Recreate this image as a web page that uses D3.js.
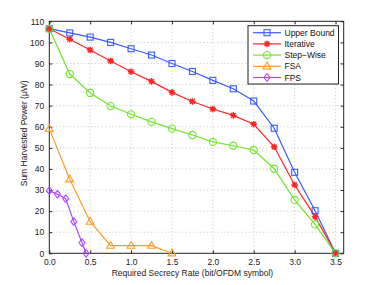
<!DOCTYPE html>
<html>
<head>
<meta charset="utf-8">
<script src="https://cdn.jsdelivr.net/npm/d3@7"></script>
<style>
  body { margin: 0; background: #fff; }
  text { font-family: "Liberation Sans", Arial, sans-serif; }
</style>
</head>
<body>
<svg id="chart" width="379" height="285"></svg>
<script>
// Data
const rateSteps = [0, 0.25, 0.5, 0.75, 1, 1.25, 1.5, 1.75, 2, 2.25, 2.5, 2.75, 3, 3.25, 3.5];
const upperBound = [106.5, 104.5, 102.5, 100, 97, 94, 90, 86.2, 82, 78, 72.2, 59.3, 38.4, 20.2, 0];
const iterative = [106.5, 101.5, 96.4, 91.2, 86.1, 81.5, 76.3, 72, 68.4, 65.4, 61.2, 50.5, 32.4, 17.4, 0];
const stepWise = [106.5, 85, 76, 69.8, 65.9, 62.3, 59.1, 56.1, 52.8, 51, 49, 40.1, 25.3, 13.7, 0];
const fsaRate = [0, 0.25, 0.5, 0.75, 1, 1.25, 1.5];
const fsaPower = [59, 35.1, 15, 3.6, 3.6, 3.6, 0];
const fpsRate = [0, 0.1, 0.2, 0.3, 0.4, 0.45];
const fpsPower = [29.7, 28, 25.9, 15, 5, 0];

const xTicks = [0, 0.5, 1, 1.5, 2, 2.5, 3, 3.5];
const yTicks = [0, 10, 20, 30, 40, 50, 60, 70, 80, 90, 100, 110];

const series = [
  { name: 'Upper Bound', color: '#3a5cff', marker: 'square', xs: rateSteps, ys: upperBound },
  { name: 'Iterative', color: '#ff2424', marker: 'star', xs: rateSteps, ys: iterative },
  { name: 'Step\u2212Wise', color: '#6ee62a', marker: 'circle', xs: rateSteps, ys: stepWise },
  { name: 'FSA', color: '#ff9a26', marker: 'triangle', xs: fsaRate, ys: fsaPower },
  { name: 'FPS', color: '#b048ff', marker: 'diamond', xs: fpsRate, ys: fpsPower }
];

const margin = { left: 49.3, top: 21.3, right: 379 - 343.7, bottom: 285 - 253.3 };
const width = 379 - margin.left - margin.right;
const height = 285 - margin.top - margin.bottom;

const svg = d3.select('#chart');
const g = svg.append('g').attr('transform', `translate(${margin.left},${margin.top})`);

const x = d3.scaleLinear().domain([0, 3.6]).range([0, width]);
const y = d3.scaleLinear().domain([0, 110]).range([height, 0]);

// Grid
g.append('g').selectAll('line').data(xTicks.filter(d => d > 0)).join('line')
  .attr('x1', d => x(d)).attr('x2', d => x(d)).attr('y1', 0).attr('y2', height)
  .attr('stroke', '#b8b8b8').attr('stroke-width', 0.8).attr('stroke-dasharray', '1,2.5');
g.append('g').selectAll('line').data(yTicks.filter(d => d > 0 && d < 110)).join('line')
  .attr('x1', 0).attr('x2', width).attr('y1', d => y(d)).attr('y2', d => y(d))
  .attr('stroke', '#b8b8b8').attr('stroke-width', 0.8).attr('stroke-dasharray', '1,2.5');

// Axes (ticks pointing inward, MATLAB style)
const xAxis = g.append('g').attr('transform', `translate(0,${height})`)
  .call(d3.axisBottom(x).tickValues(xTicks).tickSizeInner(-3).tickSizeOuter(0).tickPadding(6));
const yAxis = g.append('g')
  .call(d3.axisLeft(y).tickValues(yTicks).tickSizeInner(-3).tickSizeOuter(0).tickPadding(5));
g.append('g').call(d3.axisTop(x).tickValues(xTicks).tickSizeInner(-3).tickSizeOuter(0).tickFormat(''));
g.append('g').attr('transform', `translate(${width},0)`)
  .call(d3.axisRight(y).tickValues(yTicks).tickSizeInner(-3).tickSizeOuter(0).tickFormat(''));
g.selectAll('.domain').remove();
g.selectAll('.tick line').attr('stroke', '#222');
[xAxis, yAxis].forEach(a => a.selectAll('text')
  .attr('font-size', 8.5).attr('fill', '#222').style('font-family', '"Liberation Sans", Arial, sans-serif'));
g.append('rect').attr('width', width).attr('height', height)
  .attr('fill', 'none').attr('stroke', '#222').attr('stroke-width', 1);

// Markers
function drawMarker(sel, type, color) {
  if (type === 'square') {
    sel.append('rect').attr('x', -3).attr('y', -3).attr('width', 6).attr('height', 6)
      .attr('fill', 'none').attr('stroke', color).attr('stroke-width', 1.1);
  } else if (type === 'circle') {
    sel.append('circle').attr('r', 3.6).attr('fill', 'none').attr('stroke', color).attr('stroke-width', 1.1);
  } else if (type === 'triangle') {
    sel.append('path').attr('d', 'M0,-4.2L3.9,2.6L-3.9,2.6Z')
      .attr('fill', 'none').attr('stroke', color).attr('stroke-width', 1.1);
  } else if (type === 'diamond') {
    sel.append('path').attr('d', 'M0,-3.8L3,0L0,3.8L-3,0Z')
      .attr('fill', 'none').attr('stroke', color).attr('stroke-width', 1.1);
  } else if (type === 'star') {
    sel.append('path').attr('d', 'M-3.3,0H3.3M0,-3.3V3.3M-2.4,-2.4L2.4,2.4M-2.4,2.4L2.4,-2.4')
      .attr('stroke', color).attr('stroke-width', 1.4);
    sel.append('circle').attr('r', 1.6).attr('fill', color);
  }
}

const line = d3.line().x(d => x(d[0])).y(d => y(d[1]));

series.forEach(s => {
  const pts = s.xs.map((v, i) => [v, s.ys[i]]);
  g.append('path').datum(pts).attr('d', line)
    .attr('fill', 'none').attr('stroke', s.color).attr('stroke-width', 1.2);
});
series.forEach(s => {
  const pts = s.xs.map((v, i) => [v, s.ys[i]]);
  g.append('g').selectAll('g').data(pts).join('g')
    .attr('transform', d => `translate(${x(d[0])},${y(d[1])})`)
    .each(function() { drawMarker(d3.select(this), s.marker, s.color); });
});

// Legend
const legend = svg.append('g').attr('transform', 'translate(248,25.7)');
legend.append('rect').attr('width', 90.5).attr('height', 58.3)
  .attr('fill', '#fff').attr('stroke', '#222').attr('stroke-width', 1);
series.forEach((s, i) => {
  const ly = 7 + i * 11.2;
  const row = legend.append('g').attr('transform', `translate(0,${ly})`);
  row.append('line').attr('x1', 5).attr('x2', 33).attr('stroke', s.color).attr('stroke-width', 1.2);
  const m = row.append('g').attr('transform', 'translate(19,0)');
  drawMarker(m, s.marker, s.color);
  row.append('text').attr('x', 36.5).attr('y', 3).attr('font-size', 8.5).attr('fill', '#111').text(s.name);
});

// Axis titles
svg.append('text')
  .attr('x', margin.left + x(1.75)).attr('y', 276)
  .attr('text-anchor', 'middle').attr('font-size', 8.5).attr('fill', '#222')
  .text('Required Secrecy Rate (bit/OFDM symbol)');
svg.append('text')
  .attr('transform', `translate(27,${margin.top + height / 2 - 4}) rotate(-90)`)
  .attr('text-anchor', 'middle').attr('font-size', 8.5).attr('fill', '#222')
  .text('Sum Harvested Power (\u03bcW)');
</script>
</body>
</html>
